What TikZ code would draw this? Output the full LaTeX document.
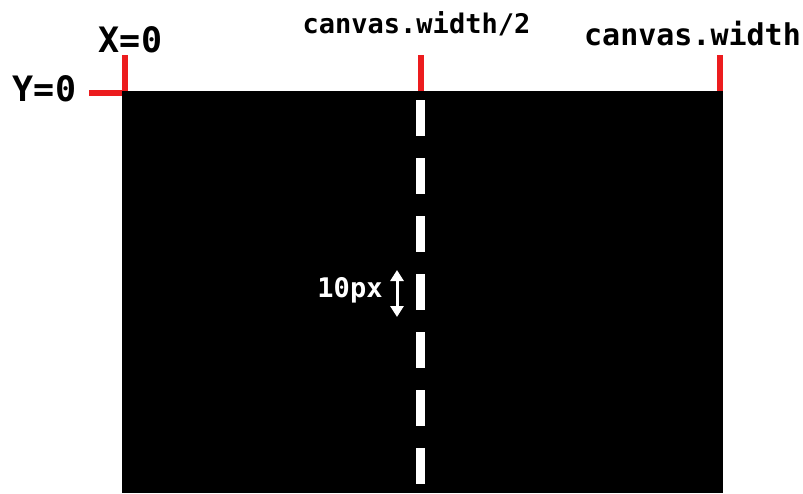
\documentclass[tikz,border=0pt]{standalone}
\usepackage{fontspec}
\setmonofont{DejaVu Sans Mono}
\usetikzlibrary{arrows.meta}
\definecolor{tickred}{RGB}{236,28,30}
\tikzset{
  lbl/.style={anchor=base, inner sep=0pt, font=\ttfamily\bfseries},
  tickmark/.style={draw=tickred, line width=6pt},
}
\begin{document}
\begin{tikzpicture}[x=1pt,y=-1pt]
\useasboundingbox[fill=white] (0,0) rectangle (803,493);
% red ticks
\coordinate (tx0a) at (124.5,55); \coordinate (tx0b) at (124.5,92);
\coordinate (txma) at (420.5,55); \coordinate (txmb) at (420.5,92);
\coordinate (txwa) at (720,55);   \coordinate (txwb) at (720,92);
\coordinate (ty0a) at (89,93);    \coordinate (ty0b) at (123,93);
\draw[tickmark] (tx0a) -- (tx0b);
\draw[tickmark] (txma) -- (txmb);
\draw[tickmark] (txwa) -- (txwb);
\draw[tickmark] (ty0a) -- (ty0b);
% canvas
\fill[black] (122,91) rectangle (723,493);
% dashed middle line
\coordinate (dtop) at (420.5,100);
\coordinate (dbot) at (420.5,493);
\draw[white, line width=9pt, dash pattern=on 36pt off 22pt] (dtop) -- (dbot);
% labels
\node[lbl, font=\fontsize{35}{35}\selectfont\ttfamily\bfseries] (xzero) at (130.5,52) {X=0};
\node[lbl, font=\fontsize{35}{35}\selectfont\ttfamily\bfseries] (yzero) at (44.5,101) {Y=0};
\node[lbl, font=\fontsize{27}{27}\selectfont\ttfamily\bfseries] (half) at (416.5,33) {canvas.width/2};
\node[lbl, font=\fontsize{30}{30}\selectfont\ttfamily\bfseries] (full) at (692.5,45) {canvas.width};
\node[lbl, text=white, font=\fontsize{27}{27}\selectfont\ttfamily\bfseries] (tenpx) at (350,297) {10px};
% 10px arrow
\coordinate (atop) at (397,270);
\coordinate (abot) at (397,317);
\draw[white, line width=3pt, {Triangle[width=13pt,length=11pt]}-{Triangle[width=13pt,length=11pt]}] (atop) -- (abot);
\end{tikzpicture}
\end{document}
